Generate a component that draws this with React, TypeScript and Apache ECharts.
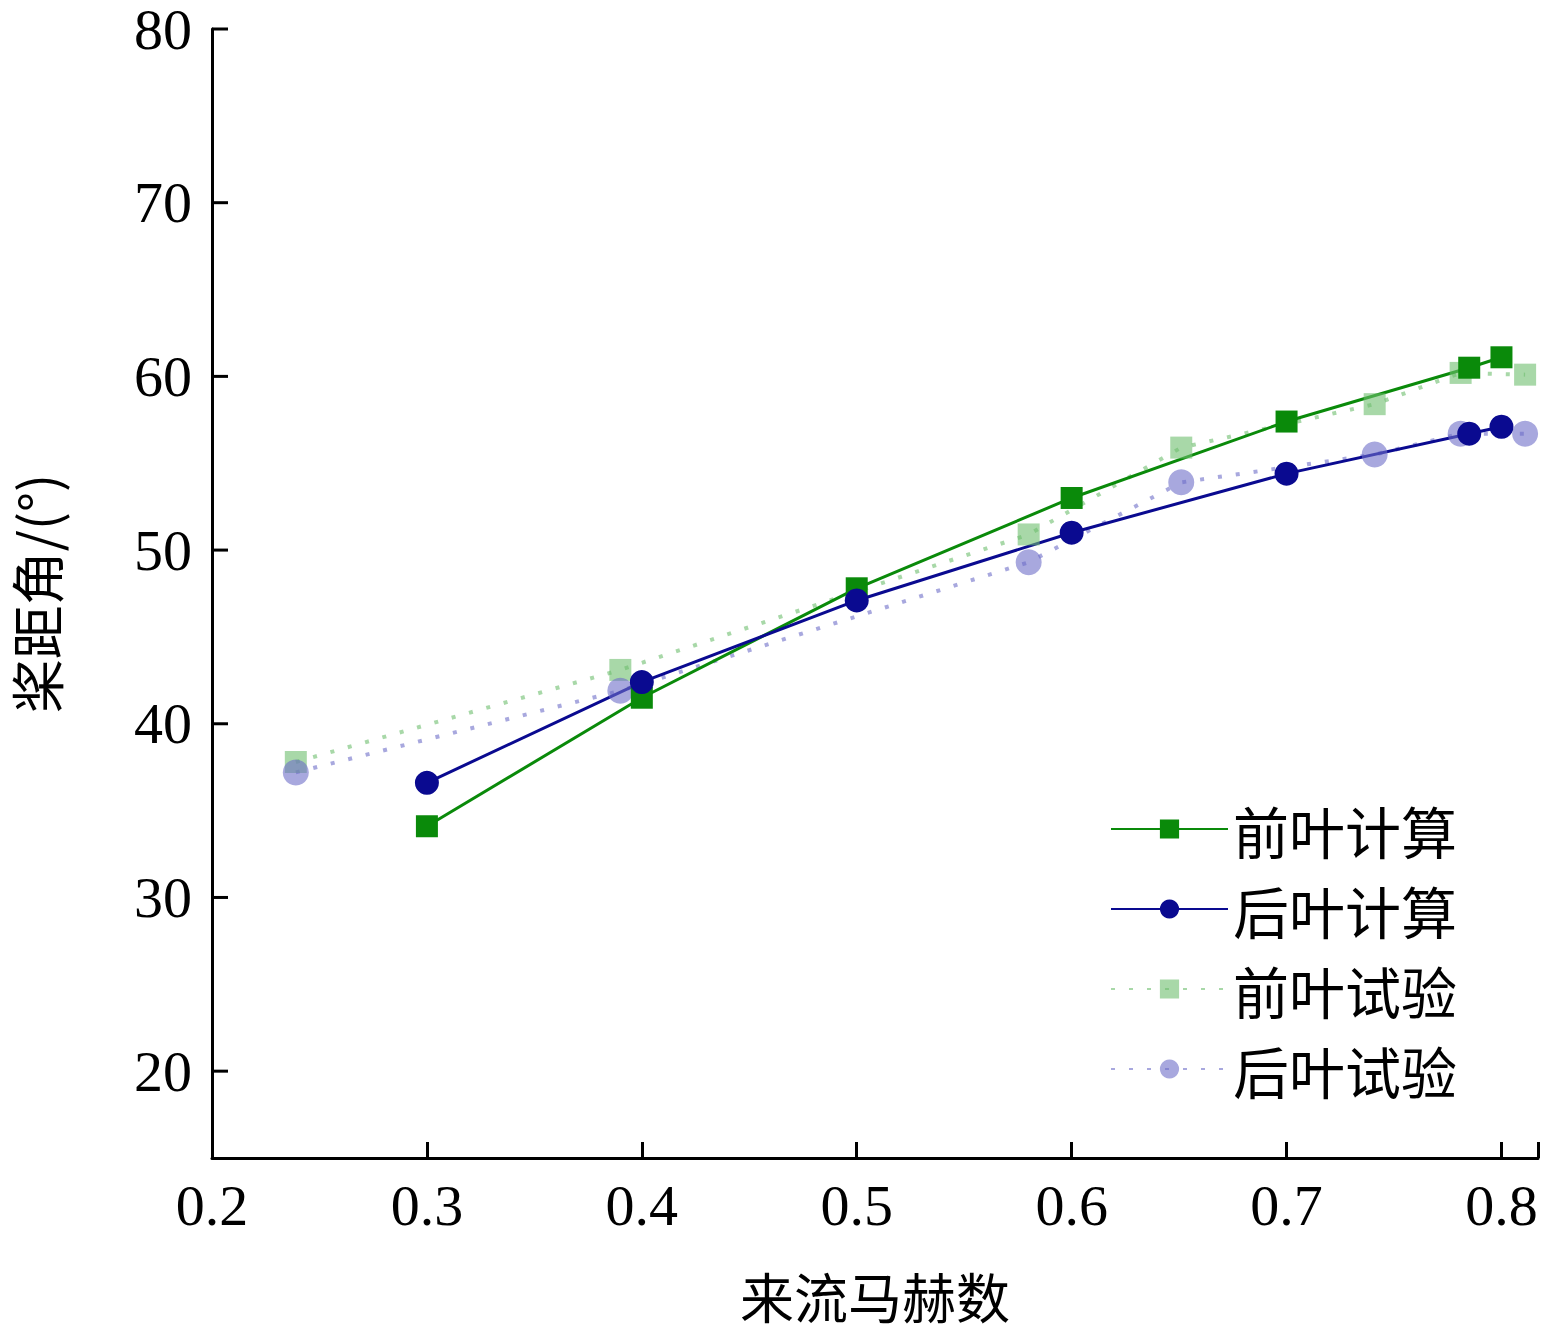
import React, { useEffect, useRef } from "react";
import * as echarts from "echarts";

const frontCalcX = [0.3, 0.4, 0.5, 0.6, 0.7, 0.785, 0.8];
const frontCalcY = [34.1, 41.5, 47.8, 53.0, 57.4, 60.5, 61.1];
const rearCalcX = [0.3, 0.4, 0.5, 0.6, 0.7, 0.785, 0.8];
const rearCalcY = [36.6, 42.4, 47.1, 51.0, 54.4, 56.7, 57.1];
const expX = [0.239, 0.39, 0.58, 0.651, 0.741, 0.781, 0.811];
const frontExpY = [37.8, 43.1, 50.9, 55.9, 58.4, 60.2, 60.1];
const rearExpY = [37.2, 41.9, 49.3, 53.9, 55.5, 56.7, 56.7];
const yTicks = [20, 30, 40, 50, 60, 70, 80];

const zip = (xs: number[], ys: number[]) => xs.map((x, i) => [x, ys[i]]);
const SERIF = "'Liberation Serif', 'Times New Roman', serif";
const CJK = "'Noto Sans CJK SC', sans-serif";

export default function App() {
  const ref = useRef<HTMLDivElement>(null);
  useEffect(() => {
    document.body.style.margin = "0";
    const chart = echarts.init(ref.current!, null, { renderer: "svg" });
    chart.setOption({
      animation: false,
      backgroundColor: "#fff",
      grid: { left: 206, top: 22, right: 2, bottom: 169 },
      xAxis: {
        type: "value", min: 0.2, max: 0.817, interval: 0.1,
        name: "来流马赫数", nameLocation: "middle", nameGap: 110,
        nameTextStyle: { fontFamily: CJK, fontSize: 54, color: "#000" },
        axisLine: { lineStyle: { color: "#000", width: 3 } },
        axisTick: { inside: true, length: 16, lineStyle: { color: "#000", width: 3 } },
        axisLabel: {
          fontFamily: SERIF, fontSize: 58, color: "#000", margin: 18,
          formatter: (v: number) => { const r = Math.round(v * 10); return Math.abs(v * 10 - r) < 1e-6 ? (r / 10).toFixed(1) : ""; },
        },
        splitLine: { show: false },
      },
      yAxis: {
        type: "value", min: 15, max: 80, interval: 5,
        name: "桨距角/(°)", nameLocation: "middle", nameGap: 150,
        nameTextStyle: { fontFamily: CJK, fontSize: 54, color: "#000" },
        axisLine: { show: true, lineStyle: { color: "#000", width: 3 } },
        axisTick: { show: false },
        axisLabel: {
          fontFamily: SERIF, fontSize: 58, color: "#000", margin: 20,
          formatter: (v: number) => (v % 10 === 0 ? String(v) : ""),
        },
        splitLine: { show: false },
      },
      legend: {
        orient: "vertical", left: 1105, top: 796, itemWidth: 117, itemHeight: 24, itemGap: 24,
        textStyle: { fontFamily: CJK, fontSize: 56, color: "#000" },
        data: ["前叶计算", "后叶计算", "前叶试验", "后叶试验"],
      },
      series: [
        {
          name: "前叶试验", type: "line", data: zip(expX, frontExpY), symbol: "rect", symbolSize: 22,
          itemStyle: { color: "rgba(110,190,110,0.6)" },
          lineStyle: { color: "rgba(110,190,110,0.6)", width: 4, type: [4, 14] },
        },
        {
          name: "后叶试验", type: "line", data: zip(expX, rearExpY), symbol: "circle", symbolSize: 26,
          itemStyle: { color: "rgba(110,110,200,0.6)" },
          lineStyle: { color: "rgba(110,110,200,0.6)", width: 4, type: [4, 14] },
        },
        {
          name: "前叶计算", type: "line", data: zip(frontCalcX, frontCalcY), symbol: "rect", symbolSize: 22,
          itemStyle: { color: "#0a8a0a" }, lineStyle: { color: "#0a8a0a", width: 3 },
        },
        {
          name: "后叶计算", type: "line", data: zip(rearCalcX, rearCalcY), symbol: "circle", symbolSize: 24,
          itemStyle: { color: "#0a0a90" }, lineStyle: { color: "#0a0a90", width: 3 },
        },
        {
          type: "custom", silent: true, data: yTicks.map((t) => [0.2, t]),
          renderItem: (params: any, api: any) => {
            const p = api.coord([api.value(0), api.value(1)]);
            return { type: "line", shape: { x1: p[0], y1: p[1], x2: p[0] + 16, y2: p[1] }, style: { stroke: "#000", lineWidth: 3 } };
          },
        },
      ],
    });
    return () => chart.dispose();
  }, []);
  return <div ref={ref} style={{ width: 1541, height: 1327 }} />;
}
